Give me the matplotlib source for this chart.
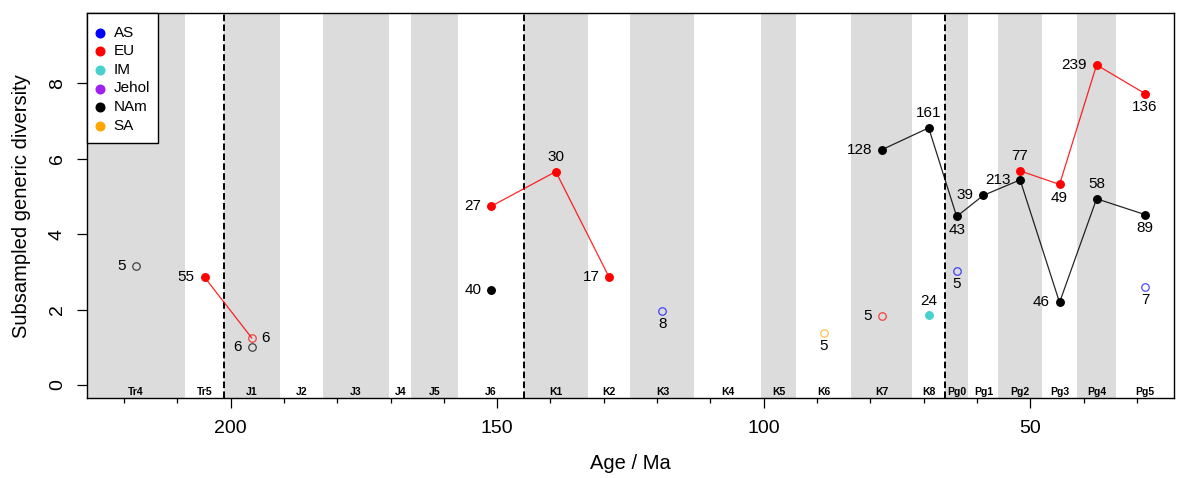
import numpy as np
import matplotlib.pyplot as plt
from matplotlib.patches import Rectangle

plt.rcParams['font.family'] = ['Liberation Sans', 'DejaVu Sans']

# stratigraphic bins (Ma boundaries, oldest first)
bins = ['Tr4', 'Tr5', 'J1', 'J2', 'J3', 'J4', 'J5', 'J6',
        'K1', 'K2', 'K3', 'K4', 'K5', 'K6', 'K7', 'K8',
        'Pg0', 'Pg1', 'Pg2', 'Pg3', 'Pg4', 'Pg5']
bounds = [227.0, 208.5, 201.3, 190.8, 182.7, 170.3, 166.1, 157.3, 145.0,
          133.0, 125.0, 113.0, 100.5, 93.9, 83.6, 72.1, 66.0,
          61.6, 56.0, 47.8, 41.2, 33.9, 23.03]
boundary_lines = [201.3, 145.0, 66.0]

regions = ['AS', 'EU', 'IM', 'Jehol', 'NAm', 'SA']
colors = {'AS': '#0000FF', 'EU': '#FF0000', 'IM': '#48D1CC',
          'Jehol': '#A020F0', 'NAm': '#000000', 'SA': '#FFA500'}

# subsampled diversity per bin: {bin: (diversity, n genera)}
div_AS = {'K3': (1.96, 8), 'Pg0': (3.02, 5), 'Pg5': (2.61, 7)}
div_EU = {'Tr5': (2.86, 55), 'J1': (1.25, 6), 'J6': (4.74, 27), 'K1': (5.66, 30),
          'K2': (2.86, 17), 'K7': (1.83, 5), 'Pg2': (5.68, 77), 'Pg3': (5.32, 49),
          'Pg4': (8.49, 239), 'Pg5': (7.73, 136)}
div_IM = {'K8': (1.85, 24)}
div_Jehol = {}
div_NAm = {'Tr4': (3.16, 5), 'J1': (1.00, 6), 'J6': (2.52, 40), 'K7': (6.24, 128),
           'K8': (6.82, 161), 'Pg0': (4.47, 43), 'Pg1': (5.03, 39), 'Pg2': (5.44, 213),
           'Pg3': (2.19, 46), 'Pg4': (4.94, 58), 'Pg5': (4.52, 89)}
div_SA = {'K6': (1.38, 5)}
diversity = {'AS': div_AS, 'EU': div_EU, 'IM': div_IM, 'Jehol': div_Jehol,
             'NAm': div_NAm, 'SA': div_SA}

# where the sample size label goes: l(eft), r(ight), a(bove), b(elow)
label_pos = {
    ('AS', 'K3'): 'b', ('AS', 'Pg0'): 'b', ('AS', 'Pg5'): 'b',
    ('EU', 'Tr5'): 'l', ('EU', 'J1'): 'r', ('EU', 'J6'): 'l', ('EU', 'K1'): 'a',
    ('EU', 'K2'): 'l', ('EU', 'K7'): 'l', ('EU', 'Pg2'): 'a', ('EU', 'Pg3'): 'b',
    ('EU', 'Pg4'): 'l', ('EU', 'Pg5'): 'b',
    ('IM', 'K8'): 'a',
    ('NAm', 'Tr4'): 'l', ('NAm', 'J1'): 'l', ('NAm', 'J6'): 'l', ('NAm', 'K7'): 'l',
    ('NAm', 'K8'): 'a', ('NAm', 'Pg0'): 'b', ('NAm', 'Pg1'): 'l', ('NAm', 'Pg2'): 'l',
    ('NAm', 'Pg3'): 'l', ('NAm', 'Pg4'): 'a', ('NAm', 'Pg5'): 'b',
    ('SA', 'K6'): 'b',
}
min_n_filled = 10

mids = [(bounds[i] + bounds[i + 1]) / 2 for i in range(len(bins))]

W, H = 1177, 478
fig = plt.figure(figsize=(W / 100, H / 100), dpi=100)
ax = fig.add_axes([86.7 / W, 1 - 398 / H, (1174 - 86.7) / W, (398 - 13.3) / H])
ax.set_xlim(bounds[0], bounds[-1])
ax.set_ylim(-0.345, 9.86)

# alternating grey bands + bin names
for i, b in enumerate(bins):
    if i % 2 == 0:
        ax.axvspan(bounds[i], bounds[i + 1], color='#DCDCDC', lw=0, zorder=0)
    ax.text(mids[i], -0.18, b, ha='center', va='center', fontsize=7.5,
            fontweight='bold', zorder=1)

for a in boundary_lines:
    ax.axvline(a, color='black', lw=1.4, dashes=(3.4, 1.7), zorder=2)

offsets = {'l': (-7, 0, 'right', 'center'), 'r': (7, 0, 'left', 'center'),
           'a': (0, 10.6, 'center', 'center'), 'b': (0, -9.6, 'center', 'center')}

for reg in regions:
    d = diversity[reg]
    col = colors[reg]
    vals = np.array([d[b][0] if b in d else np.nan for b in bins])
    ax.plot(mids, vals, color=col, lw=0.9, alpha=0.85, zorder=3)
    for i, b in enumerate(bins):
        if b not in d:
            continue
        v, n = d[b]
        if n >= min_n_filled:
            ax.plot(mids[i], v, 'o', ms=5.4, color=col, mec=col, zorder=4)
        else:
            ax.plot(mids[i], v, 'o', ms=5.4, mfc='none', mec=col, mew=0.9,
                    alpha=0.7, zorder=4)
        dx, dy, ha, va = offsets[label_pos[(reg, b)]]
        ax.annotate(str(n), (mids[i], v), xytext=(dx, dy), textcoords='offset points',
                    ha=ha, va=va, fontsize=11, zorder=5)

# axes and ticks
ax.set_xticks([200, 150, 100, 50])
ax.set_xticks([x for x in range(220, 20, -10) if x % 50 != 0], minor=True)
ax.set_yticks([0, 2, 4, 6, 8])
ax.tick_params(axis='x', which='major', length=7, width=0.9, labelsize=14, pad=9)
ax.tick_params(axis='x', which='minor', length=3.5, width=0.9)
ax.tick_params(axis='y', length=7, width=0.9, labelsize=14, pad=8)
for t in ax.get_yticklabels():
    t.set_rotation(90)
    t.set_va('center')
for s in ax.spines.values():
    s.set_linewidth(1.0)

fig.text(21.7 / W, 1 - 205.7 / H, 'Subsampled generic diversity', rotation=90,
         ha='center', va='center', fontsize=14.5)
fig.text(630.3 / W, 1 - 463.3 / H, 'Age / Ma', ha='center', va='center', fontsize=14.5)

# legend box, placed in pixel coordinates like the original
def px(x, y):
    return x / W, 1 - y / H

x0, y0 = px(86.7, 142.7)
x1, y1 = px(157.7, 13.3)
fig.add_artist(Rectangle((x0, y0), x1 - x0, y1 - y0, transform=fig.transFigure,
                         facecolor='white', edgecolor='black', lw=1.0, zorder=6))
for k, r in enumerate(regions):
    mx, my = px(100, 32.7 + 18.6 * k)
    fig.add_artist(plt.Line2D([mx], [my], marker='o', ms=6.2, color=colors[r],
                              ls='none', transform=fig.transFigure, zorder=7))
    tx, ty = px(113.5, 32.7 + 18.6 * k)
    fig.text(tx, ty, r, ha='left', va='center', fontsize=11, zorder=7)

fig.savefig('out.png', dpi=100)
